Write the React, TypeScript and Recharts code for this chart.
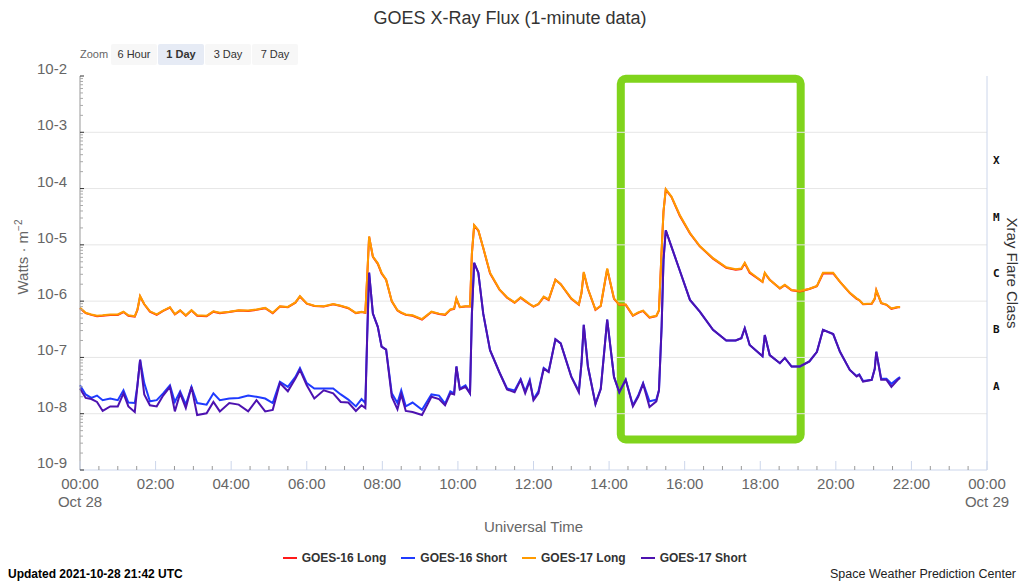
import { LineChart, Line, XAxis, YAxis, ReferenceLine, ReferenceArea } from 'recharts';

// hours after 00:00 UTC, Oct 28 2021
const hoursUtc = [
  0, 0.15, 0.3, 0.45, 0.6, 0.8, 1.0, 1.15, 1.28, 1.45,
  1.52, 1.59, 1.7, 1.85, 2.03, 2.2, 2.38, 2.51, 2.65, 2.8,
  2.95, 3.1, 3.35, 3.53, 3.7, 3.95, 4.2, 4.45, 4.67, 4.9,
  5.1, 5.29, 5.5, 5.7, 5.82, 6.0, 6.2, 6.45, 6.7, 6.9,
  7.1, 7.3, 7.45, 7.55, 7.6, 7.65, 7.75, 7.88, 7.98, 8.1,
  8.25, 8.4, 8.5, 8.62, 8.8, 9.05, 9.3, 9.5, 9.66, 9.8,
  9.9, 9.96, 10.05, 10.2, 10.32, 10.37, 10.43, 10.54, 10.67, 10.85,
  11.1, 11.3, 11.5, 11.66, 11.78, 11.9, 12.0, 12.13, 12.27, 12.4,
  12.58, 12.72, 13.0, 13.2, 13.27, 13.33, 13.44, 13.64, 13.78, 13.95,
  14.13, 14.27, 14.44, 14.63, 14.77, 14.9, 15.07, 15.25, 15.32, 15.39,
  15.44, 15.5, 15.65, 15.87, 16.14, 16.4, 16.75, 17.1, 17.35, 17.5,
  17.59, 17.72, 18.06, 18.12, 18.25, 18.52, 18.65, 18.83, 19.05, 19.3,
  19.5, 19.66, 19.93, 20.11, 20.37, 20.55, 20.62, 20.72, 20.95, 21.03,
  21.07, 21.2, 21.34, 21.47, 21.64, 21.7,
];

// Watts / m^2
const goes17Long = [
  7.6e-7, 6.2e-7, 5.8e-7, 5.5e-7, 5.6e-7, 5.8e-7, 5.8e-7, 6.5e-7, 5.6e-7, 5.4e-7,
  7.1e-7, 1.23e-6, 8.9e-7, 6.6e-7, 5.8e-7, 6.8e-7, 7.8e-7, 5.9e-7, 6.9e-7, 5.6e-7,
  6.9e-7, 5.6e-7, 5.5e-7, 6.6e-7, 6.2e-7, 6.5e-7, 6.9e-7, 6.8e-7, 7.1e-7, 7.6e-7,
  6.2e-7, 8.1e-7, 7.9e-7, 9.5e-7, 1.23e-6, 9.1e-7, 8.3e-7, 8.1e-7, 8.9e-7, 8.3e-7,
  7.6e-7, 6.2e-7, 6.5e-7, 6.3e-7, 2.8e-6, 1.41e-5, 6.2e-6, 4.7e-6, 3.2e-6, 2.4e-6,
  1.0e-6, 6.9e-7, 6.3e-7, 5.8e-7, 5.6e-7, 4.8e-7, 6.5e-7, 6.0e-7, 5.8e-7, 7.1e-7,
  7.4e-7, 1.12e-6, 7.9e-7, 8.1e-7, 8.1e-7, 7.1e-6, 2.24e-5, 1.82e-5, 8.9e-6, 3.2e-6,
  1.62e-6, 1.17e-6, 9.5e-7, 1.17e-6, 1.02e-6, 8.9e-7, 8.1e-7, 8.9e-7, 1.2e-6, 1.07e-6,
  2.4e-6, 2.0e-6, 1.12e-6, 8.7e-7, 1.41e-6, 3.3e-6, 1.66e-6, 7.1e-7, 8.3e-7, 3.8e-6,
  1.12e-6, 8.7e-7, 8.7e-7, 5.6e-7, 6.3e-7, 6.8e-7, 5.2e-7, 5.5e-7, 6.9e-7, 7.9e-6,
  4.0e-5, 9.8e-5, 7.2e-5, 3.4e-5, 1.62e-5, 9.5e-6, 5.8e-6, 4.0e-6, 3.7e-6, 3.8e-6,
  4.8e-6, 3.3e-6, 2.2e-6, 3.2e-6, 2.4e-6, 1.7e-6, 1.95e-6, 1.58e-6, 1.51e-6, 1.66e-6,
  1.86e-6, 3.2e-6, 3.2e-6, 2.2e-6, 1.41e-6, 1.12e-6, 1.05e-6, 8.9e-7, 9.1e-7, 1.12e-6,
  1.58e-6, 9.3e-7, 8.7e-7, 7.4e-7, 7.9e-7, 7.9e-7,
];

// GOES-16 long channel sits right under the GOES-17 one
const goes16Long = [
  7.5e-7, 6.1e-7, 5.7e-7, 5.4e-7, 5.5e-7, 5.7e-7, 5.7e-7, 6.4e-7, 5.5e-7, 5.3e-7,
  7.0e-7, 1.21e-6, 8.8e-7, 6.5e-7, 5.7e-7, 6.7e-7, 7.7e-7, 5.8e-7, 6.8e-7, 5.5e-7,
  6.8e-7, 5.5e-7, 5.4e-7, 6.5e-7, 6.1e-7, 6.4e-7, 6.8e-7, 6.7e-7, 7.0e-7, 7.5e-7,
  6.1e-7, 8.0e-7, 7.8e-7, 9.4e-7, 1.21e-6, 9.0e-7, 8.2e-7, 8.0e-7, 8.8e-7, 8.2e-7,
  7.5e-7, 6.1e-7, 6.4e-7, 6.2e-7, 2.7e-6, 1.39e-5, 6.1e-6, 4.6e-6, 3.1e-6, 2.4e-6,
  9.9e-7, 6.8e-7, 6.2e-7, 5.7e-7, 5.5e-7, 4.7e-7, 6.4e-7, 5.9e-7, 5.7e-7, 7.0e-7,
  7.3e-7, 1.1e-6, 7.8e-7, 8.0e-7, 8.0e-7, 7.0e-6, 2.2e-5, 1.8e-5, 8.8e-6, 3.1e-6,
  1.6e-6, 1.15e-6, 9.4e-7, 1.15e-6, 1.0e-6, 8.8e-7, 8.0e-7, 8.8e-7, 1.18e-6, 1.05e-6,
  2.4e-6, 2.0e-6, 1.1e-6, 8.6e-7, 1.39e-6, 3.2e-6, 1.64e-6, 7.0e-7, 8.2e-7, 3.7e-6,
  1.1e-6, 8.6e-7, 8.6e-7, 5.5e-7, 6.2e-7, 6.7e-7, 5.1e-7, 5.4e-7, 6.8e-7, 7.8e-6,
  3.9e-5, 9.6e-5, 7.1e-5, 3.3e-5, 1.6e-5, 9.4e-6, 5.7e-6, 3.9e-6, 3.6e-6, 3.7e-6,
  4.7e-6, 3.2e-6, 2.2e-6, 3.1e-6, 2.4e-6, 1.68e-6, 1.92e-6, 1.56e-6, 1.49e-6, 1.64e-6,
  1.84e-6, 3.1e-6, 3.1e-6, 2.2e-6, 1.39e-6, 1.1e-6, 1.04e-6, 8.8e-7, 9.0e-7, 1.1e-6,
  1.56e-6, 9.2e-7, 8.6e-7, 7.3e-7, 7.8e-7, 7.8e-7,
];

const goes16Short = [
  3.2e-8, 2.2e-8, 1.91e-8, 2.1e-8, 1.74e-8, 1.86e-8, 1.74e-8, 2.6e-8, 1.58e-8, 1.55e-8,
  3.2e-8, 9.1e-8, 3.5e-8, 1.66e-8, 1.74e-8, 2.3e-8, 3.2e-8, 1.62e-8, 2.5e-8, 1.45e-8,
  3.0e-8, 1.55e-8, 1.45e-8, 2.3e-8, 1.74e-8, 1.86e-8, 1.91e-8, 2.1e-8, 2.0e-8, 1.86e-8,
  1.55e-8, 3.7e-8, 3.0e-8, 4.5e-8, 6.5e-8, 3.5e-8, 2.8e-8, 2.8e-8, 2.8e-8, 2.2e-8,
  1.78e-8, 1.35e-8, 1.82e-8, 1.55e-8, 2.5e-7, 3.2e-6, 6.0e-7, 3.5e-7, 1.55e-7, 1.38e-7,
  2.3e-8, 1.55e-8, 2.6e-8, 1.35e-8, 1.58e-8, 1.17e-8, 2.2e-8, 2.1e-8, 1.51e-8, 2.5e-8,
  2.3e-8, 6.9e-8, 2.8e-8, 3.2e-8, 2.3e-8, 6.0e-7, 4.8e-6, 3.2e-6, 6.0e-7, 1.35e-7,
  5.4e-8, 2.8e-8, 2.6e-8, 4.1e-8, 2.5e-8, 4.0e-8, 1.82e-8, 2.5e-8, 6.5e-8, 5.6e-8,
  2.1e-7, 1.78e-7, 4.6e-8, 2.5e-8, 7.9e-8, 3.8e-7, 6.9e-8, 1.51e-8, 2.8e-8, 4.7e-7,
  4.5e-8, 2.4e-8, 4.0e-8, 1.41e-8, 2.1e-8, 3.5e-8, 1.66e-8, 1.78e-8, 2.6e-8, 3.5e-7,
  5.4e-6, 1.82e-5, 9.3e-6, 3.5e-6, 1.05e-6, 6.5e-7, 3.1e-7, 2.0e-7, 2.0e-7, 2.2e-7,
  3.3e-7, 1.66e-7, 1.05e-7, 2.5e-7, 1.1e-7, 7.9e-8, 9.8e-8, 6.9e-8, 6.9e-8, 8.5e-8,
  1.26e-7, 3.1e-7, 2.6e-7, 1.26e-7, 6.0e-8, 4.7e-8, 5.0e-8, 3.8e-8, 4.0e-8, 6.3e-8,
  1.26e-7, 4.2e-8, 4.2e-8, 3.4e-8, 4.2e-8, 4.5e-8,
];

const goes17Short = [
  2.8e-8, 1.91e-8, 1.82e-8, 1.62e-8, 1.12e-8, 1.35e-8, 1.35e-8, 2.3e-8, 1.35e-8, 1.07e-8,
  3.2e-8, 9.1e-8, 2.2e-8, 1.41e-8, 1.35e-8, 2.1e-8, 3.0e-8, 1.1e-8, 2.3e-8, 1.26e-8,
  3.0e-8, 9.5e-9, 1.02e-8, 1.62e-8, 1.1e-8, 1.55e-8, 1.45e-8, 1.1e-8, 1.74e-8, 1.1e-8,
  1.17e-8, 3.5e-8, 2.5e-8, 4.2e-8, 6.0e-8, 3.2e-8, 1.86e-8, 2.6e-8, 2.3e-8, 1.62e-8,
  1.58e-8, 1.12e-8, 1.41e-8, 1.26e-8, 2.5e-7, 3.2e-6, 6.0e-7, 3.5e-7, 1.55e-7, 1.38e-7,
  2.0e-8, 1.2e-8, 2.2e-8, 1.12e-8, 1.07e-8, 9.5e-9, 2.0e-8, 1.82e-8, 1.41e-8, 2.3e-8,
  2.2e-8, 6.9e-8, 2.7e-8, 3.0e-8, 2.3e-8, 6.0e-7, 4.8e-6, 3.2e-6, 6.0e-7, 1.35e-7,
  5.4e-8, 2.7e-8, 2.4e-8, 4.0e-8, 2.3e-8, 3.8e-8, 1.74e-8, 2.3e-8, 6.3e-8, 5.5e-8,
  2.1e-7, 1.78e-7, 4.5e-8, 2.4e-8, 7.9e-8, 3.8e-7, 6.9e-8, 1.48e-8, 2.75e-8, 4.7e-7,
  4.5e-8, 2.4e-8, 4.0e-8, 1.35e-8, 2.0e-8, 3.4e-8, 1.32e-8, 1.66e-8, 2.6e-8, 3.5e-7,
  5.4e-6, 1.82e-5, 9.3e-6, 3.5e-6, 1.05e-6, 6.5e-7, 3.1e-7, 2.0e-7, 2.0e-7, 2.2e-7,
  3.3e-7, 1.66e-7, 1.05e-7, 2.5e-7, 1.1e-7, 7.9e-8, 9.8e-8, 6.9e-8, 6.9e-8, 8.5e-8,
  1.26e-7, 3.1e-7, 2.6e-7, 1.26e-7, 6.0e-8, 4.6e-8, 4.9e-8, 3.7e-8, 4.0e-8, 6.3e-8,
  1.26e-7, 4.0e-8, 4.0e-8, 3.0e-8, 4.0e-8, 4.3e-8,
];

const series = [
  { key: 'g16Long', name: 'GOES-16 Long', color: '#ff1a1a' },
  { key: 'g16Short', name: 'GOES-16 Short', color: '#1f3bff' },
  { key: 'g17Long', name: 'GOES-17 Long', color: '#ff9a00' },
  { key: 'g17Short', name: 'GOES-17 Short', color: '#4d12b0' },
];

// axis ticks
const timeMajorTicks = [0, 2, 4, 6, 8, 10, 12, 14, 16, 18, 20, 22, 24];
const timeTickLabels = ['00:00', '02:00', '04:00', '06:00', '08:00', '10:00', '12:00', '14:00', '16:00', '18:00', '20:00', '22:00', '00:00'];
const dateLabels: Record<number, string> = { 0: 'Oct 28', 24: 'Oct 29' };
const timeAllTicks = Array.from({ length: 49 }, (_, i) => i / 2);

const fluxMajorTicks = [1e-2, 1e-3, 1e-4, 1e-5, 1e-6, 1e-7, 1e-8, 1e-9];
const fluxTickLabels = ['10-2', '10-3', '10-4', '10-5', '10-6', '10-7', '10-8', '10-9'];
const fluxMinorTicks = fluxMajorTicks.slice(1).flatMap((d) => [2, 3, 4, 5, 6, 7, 8, 9].map((m) => m * d));

const flareClasses = ['X', 'M', 'C', 'B', 'A'];
const flareClassTicks = [3.16e-4, 3.16e-5, 3.16e-6, 3.16e-7, 3.16e-8];

// green highlight box around the X1 flare
const boxStart = 14.31;
const boxEnd = 19.07;
const boxLow = 3.5e-9;
const boxHigh = 8.9e-3;

const chartData = hoursUtc.map((t, i) => ({
  t,
  g16Long: goes16Long[i],
  g16Short: goes16Short[i],
  g17Long: goes17Long[i],
  g17Short: goes17Short[i],
}));

const FONT = "'Liberation Sans', Arial, Helvetica, sans-serif";

function TimeTick(props: any) {
  const { x, y, payload, top } = props;
  const idx = timeMajorTicks.indexOf(payload.value);
  const dir = top ? 1 : -1;
  if (idx < 0) {
    return <line x1={x} x2={x} y1={y} y2={y + dir * 4} stroke="#999" />;
  }
  return (
    <g>
      <line x1={x} x2={x} y1={y} y2={y + dir * 9} stroke="#ccd6eb" />
      {!top && (
        <text x={x} y={y + 19} textAnchor="middle" fill="#666" fontSize={15} fontFamily={FONT}>
          {timeTickLabels[idx]}
        </text>
      )}
      {!top && dateLabels[payload.value] && (
        <text x={x} y={y + 37} textAnchor="middle" fill="#666" fontSize={15} fontFamily={FONT}>
          {dateLabels[payload.value]}
        </text>
      )}
    </g>
  );
}

function FluxTick(props: any) {
  const { x, y, payload } = props;
  const idx = fluxMajorTicks.indexOf(payload.value);
  if (idx < 0) {
    return <line x1={x} x2={x + 3} y1={y} y2={y} stroke="#aaa" />;
  }
  return (
    <g>
      <line x1={x} x2={x + 4} y1={y} y2={y} stroke="#333" />
      <text x={x - 13} y={y - 2} textAnchor="end" fill="#666" fontSize={15} fontFamily={FONT}>
        {fluxTickLabels[idx]}
      </text>
    </g>
  );
}

function ClassTick(props: any) {
  const { x, y, payload } = props;
  const idx = flareClassTicks.indexOf(payload.value);
  return (
    <text x={x + 6} y={y + 4} fill="#111" fontSize={11} fontWeight="bold" fontFamily="'DejaVu Sans Mono', monospace">
      {flareClasses[idx]}
    </text>
  );
}

const zoomButtons = ['6 Hour', '1 Day', '3 Day', '7 Day'];

export default function App() {
  return (
    <div style={{ position: 'absolute', left: 0, top: 0, width: 1020, height: 581, background: '#fff', fontFamily: FONT }}>
      <LineChart width={1020} height={581} data={chartData} margin={{ top: 76, right: 0, bottom: 0, left: 0 }}>
        <XAxis
          dataKey="t"
          type="number"
          domain={[0, 24]}
          ticks={timeAllTicks}
          interval={0}
          height={111}
          tickLine={false}
          tickSize={0}
          tickMargin={0}
          axisLine={{ stroke: '#ccd6eb' }}
          tick={(p: any) => <TimeTick {...p} />}
        />
        <XAxis
          xAxisId="top"
          orientation="top"
          dataKey="t"
          type="number"
          domain={[0, 24]}
          ticks={timeAllTicks}
          interval={0}
          height={0}
          tickLine={false}
          tickSize={0}
          tickMargin={0}
          axisLine={{ stroke: '#ccd6eb' }}
          tick={(p: any) => <TimeTick {...p} top />}
        />
        <YAxis
          type="number"
          scale="log"
          domain={[1e-9, 1e-2]}
          allowDataOverflow
          ticks={[...fluxMajorTicks, ...fluxMinorTicks]}
          interval={0}
          width={80}
          tickLine={false}
          tickSize={0}
          tickMargin={0}
          axisLine={{ stroke: '#999' }}
          tick={(p: any) => <FluxTick {...p} />}
        />
        <YAxis
          yAxisId="class"
          orientation="right"
          type="number"
          scale="log"
          domain={[1e-9, 1e-2]}
          allowDataOverflow
          ticks={flareClassTicks}
          interval={0}
          width={33}
          tickLine={false}
          tickSize={0}
          tickMargin={0}
          axisLine={{ stroke: '#ccd6eb' }}
          tick={(p: any) => <ClassTick {...p} />}
        />
        {fluxMajorTicks.slice(1, -1).map((v) => (
          <ReferenceLine key={v} y={v} stroke="#e6e6e6" strokeWidth={1} />
        ))}
        {series.map((s) => (
          <Line
            key={s.key}
            dataKey={s.key}
            name={s.name}
            type="linear"
            stroke={s.color}
            strokeWidth={2}
            dot={false}
            activeDot={false}
            isAnimationActive={false}
          />
        ))}
        <ReferenceArea
          x1={boxStart}
          x2={boxEnd}
          y1={boxLow}
          y2={boxHigh}
          shape={(p: any) => (
            <rect x={p.x} y={p.y} width={p.width} height={p.height} rx={5} ry={5} fill="none" stroke="#80d41c" strokeWidth={8} />
          )}
        />
      </LineChart>

      <div style={{ position: 'absolute', top: 8, left: 0, width: 1020, textAlign: 'center', fontSize: 18, lineHeight: '20px', color: '#333' }}>
        GOES X-Ray Flux (1-minute data)
      </div>

      <div style={{ position: 'absolute', top: 47, left: 80, fontSize: 11, lineHeight: '14px', color: '#666' }}>Zoom</div>
      {zoomButtons.map((b, i) => (
        <div
          key={b}
          style={{
            position: 'absolute',
            top: 44,
            left: 111 + i * 47,
            width: 46,
            height: 21,
            lineHeight: '21px',
            textAlign: 'center',
            fontSize: 11,
            color: '#333',
            fontWeight: b === '1 Day' ? 'bold' : 'normal',
            background: b === '1 Day' ? '#e6ebf5' : '#f7f7f7',
            borderRadius: 2,
          }}
        >
          {b}
        </div>
      ))}

      <div
        style={{
          position: 'absolute',
          left: 22,
          top: 257,
          transform: 'translate(-50%, -50%) rotate(-90deg)',
          whiteSpace: 'nowrap',
          fontSize: 15,
          color: '#666',
        }}
      >
        Watts · m<sup style={{ fontSize: 10 }}>−2</sup>
      </div>

      <div style={{ position: 'absolute', top: 518, left: 0, width: 1067, textAlign: 'center', fontSize: 15, lineHeight: '18px', color: '#666' }}>
        Universal Time
      </div>

      <div
        style={{
          position: 'absolute',
          left: 1012,
          top: 273,
          transform: 'translate(-50%, -50%) rotate(90deg)',
          whiteSpace: 'nowrap',
          fontSize: 15,
          color: '#333',
        }}
      >
        Xray Flare Class
      </div>

      <div style={{ position: 'absolute', top: 550, left: 0, width: 1029, display: 'flex', justifyContent: 'center', gap: 15 }}>
        {series.map((s) => (
          <div key={s.key} style={{ display: 'flex', alignItems: 'center' }}>
            <span style={{ display: 'inline-block', width: 14, height: 2, background: s.color, marginRight: 5 }} />
            <span style={{ fontSize: 12, fontWeight: 'bold', color: '#333', lineHeight: '16px' }}>{s.name}</span>
          </div>
        ))}
      </div>

      <div style={{ position: 'absolute', top: 566, left: 8, fontSize: 12, fontWeight: 'bold', color: '#000', lineHeight: '16px' }}>
        Updated 2021-10-28 21:42 UTC
      </div>
      <div style={{ position: 'absolute', top: 566, right: 4, fontSize: 12.5, color: '#222', lineHeight: '16px' }}>
        Space Weather Prediction Center
      </div>
    </div>
  );
}
